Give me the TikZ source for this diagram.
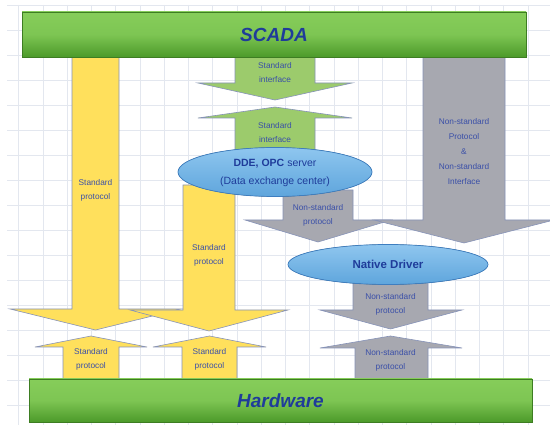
\documentclass[tikz,border=0pt]{standalone}
\usepackage{fontspec}
\setmainfont{Liberation Sans}
\usetikzlibrary{shadings}
\definecolor{gridc}{HTML}{E3E7EF}
\definecolor{yel}{HTML}{FFE05C}
\definecolor{grn}{HTML}{9CCB6C}
\definecolor{gry}{HTML}{A7A8B0}
\definecolor{edgec}{HTML}{8793B8}
\definecolor{bartop}{HTML}{86CD5A}
\definecolor{barbot}{HTML}{4C9A2A}
\definecolor{baredge}{HTML}{3D7D22}
\definecolor{elltop}{HTML}{8FC6EF}
\definecolor{ellbot}{HTML}{5EA5DC}
\definecolor{elledge}{HTML}{3E7EC0}
\definecolor{txt}{HTML}{1F3C9A}
\definecolor{lbl}{HTML}{3A4FA8}
\tikzset{
  blockarrow/.style={draw=edgec, line width=0.6pt, line join=miter},
  yarrow/.style={blockarrow, fill=yel},
  garrow/.style={blockarrow, fill=grn},
  sarrow/.style={blockarrow, fill=gry},
  lbltext/.style={text=lbl, align=center, font=\fontsize{8.3}{14}\selectfont, inner sep=0pt},
  bar/.style={draw=baredge, line width=0.8pt, top color=bartop, bottom color=barbot, middle color=bartop!85!barbot, inner sep=0pt},
  bartext/.style={text=txt, font=\fontsize{19}{22}\selectfont\bfseries\itshape},
  ell/.style={draw=elledge, line width=0.7pt, top color=elltop, bottom color=ellbot}
}
\begin{document}
\begin{tikzpicture}[x=1pt,y=-1pt]
\useasboundingbox (0,0) rectangle (550,425);
\fill[white] (0,0) rectangle (550,425);
% grid
\begin{scope}[gridc, line width=0.6pt]
  \foreach \i in {0,...,21} { \draw (18.75+24.25*\i,5) -- (18.75+24.25*\i,425); }
  \foreach \j in {0,...,16} { \draw (7,5+25*\j) -- (550,5+25*\j); }
\end{scope}
% yellow long arrow 1
\draw[yarrow] (72,57) -- (72,309) -- (10,309) -- (95.5,330) -- (181,309) -- (119,309) -- (119,57) -- cycle;
% yellow arrow 2
\draw[yarrow] (183,185) -- (183,310) -- (130,310) -- (209,331) -- (288,310) -- (235,310) -- (235,185) -- cycle;
% yellow up arrows
\draw[yarrow] (63,379) -- (63,347) -- (35,347) -- (91,336) -- (147,347) -- (119,347) -- (119,379) -- cycle;
\draw[yarrow] (182,379) -- (182,347) -- (153,347) -- (209.5,336) -- (266,347) -- (237,347) -- (237,379) -- cycle;
% green arrows
\draw[garrow] (235,57) -- (235,83) -- (198,83) -- (275,100) -- (352,83) -- (315,83) -- (315,57) -- cycle;
\draw[garrow] (235,165) -- (235,118) -- (198,118) -- (275,107) -- (352,118) -- (315,118) -- (315,165) -- cycle;
% grey arrows
\draw[sarrow] (283,190) -- (283,220) -- (245,220) -- (318,242) -- (391,220) -- (353,220) -- (353,190) -- cycle;
\draw[sarrow] (423,57) -- (423,220) -- (374,220) -- (464,243) -- (554,220) -- (505,220) -- (505,57) -- cycle;
\draw[sarrow] (353,275) -- (353,310) -- (320,310) -- (390.5,329) -- (462,310) -- (428,310) -- (428,275) -- cycle;
\draw[sarrow] (355,379) -- (355,348) -- (320,348) -- (390.5,336) -- (462,348) -- (428,348) -- (428,379) -- cycle;
% bars
\node[bar, minimum width=504pt, minimum height=45pt] (scada) at (274,34.5) {};
\node[bartext] (scadat) at (scada.center) {SCADA};
\node[bar, minimum width=503pt, minimum height=43pt] (hw) at (280.5,400.5) {};
\node[bartext] (hwt) at (hw.center) {Hardware};
% ellipses
\fill[ell] (275,172) ellipse [x radius=97, y radius=24.5];
\node[text=txt, align=center, font=\fontsize{10.5}{18}\selectfont, inner sep=0pt] (dde) at (275,173) {\textbf{DDE, OPC} server\\(Data exchange center)};
\fill[ell] (388,264.5) ellipse [x radius=100, y radius=20];
\node[text=txt, font=\fontsize{11.5}{14}\selectfont\bfseries, inner sep=0pt] (nd) at (388,264.5) {Native Driver};
% labels
\node[lbltext] (l1) at (95.5,190) {Standard\\protocol};
\node[lbltext] (l2) at (209,255) {Standard\\protocol};
\node[lbltext] (l3) at (91,359) {Standard\\protocol};
\node[lbltext] (l4) at (209.5,359) {Standard\\protocol};
\node[lbltext] (l5) at (275,73) {Standard\\interface};
\node[lbltext] (l6) at (275,133) {Standard\\interface};
\node[lbltext] (l7) at (318,215) {Non-standard\\protocol};
\node[lbltext, font=\fontsize{8.3}{15}\selectfont] (l8) at (464,152) {Non-standard\\Protocol\\\&\\Non-standard\\Interface};
\node[lbltext] (l9) at (390.5,304) {Non-standard\\protocol};
\node[lbltext] (l10) at (390.5,360) {Non-standard\\protocol};
\end{tikzpicture}
\end{document}
